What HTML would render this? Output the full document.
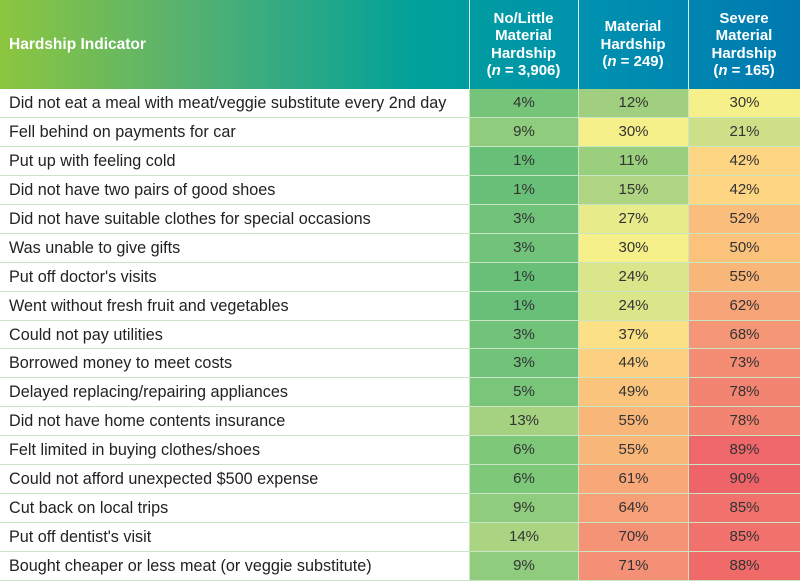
<!DOCTYPE html>
<html><head><meta charset="utf-8">
<style>
body{margin:0;width:800px;height:581px;overflow:hidden;background:#fff;font-family:"Liberation Sans",sans-serif;}
#wrap{position:relative;width:800px;height:581px;}
.hdr{position:absolute;top:0;left:0;width:800px;height:89px;background:linear-gradient(90deg,#8cc63f 0%,#52b073 25%,#00a19a 52%,#0090b0 75%,#0078b0 100%);}
.h{position:absolute;color:#fff;font-weight:bold;font-size:15px;line-height:17.5px;text-align:center;display:flex;align-items:center;justify-content:center;}
.vl{position:absolute;top:0;width:1px;height:89px;background:#fff;opacity:.85}
.lab{position:absolute;left:9px;font-size:16.2px;color:#222;white-space:nowrap;}
.cell{position:absolute;text-align:center;font-size:15px;color:#333;box-sizing:border-box;}
.rl{position:absolute;left:0;width:800px;height:1px;background:#c8e6c4;}
</style></head><body>
<div id="wrap">
<div class="hdr"></div>
<div class="h" style="left:0;top:0;width:300px;height:89px;justify-content:flex-start;padding-left:9px;font-size:15.5px"><span>Hardship Indicator</span></div>
<div class="vl" style="left:469px"></div><div class="vl" style="left:578px"></div><div class="vl" style="left:688px"></div>
<div class="h" style="left:469px;top:0;width:109px;height:89px"><span>No/Little<br>Material<br>Hardship<br>(<i>n</i>&nbsp;=&nbsp;3,906)</span></div>
<div class="h" style="left:578px;top:0;width:110px;height:89px"><span>Material<br>Hardship<br>(<i>n</i>&nbsp;=&nbsp;249)</span></div>
<div class="h" style="left:688px;top:0;width:112px;height:89px"><span>Severe<br>Material<br>Hardship<br>(<i>n</i>&nbsp;=&nbsp;165)</span></div>
</div>
<script>
const indicators=["Did not eat a meal with meat/veggie substitute every 2nd day","Fell behind on payments for car","Put up with feeling cold","Did not have two pairs of good shoes","Did not have suitable clothes for special occasions","Was unable to give gifts","Put off doctor's visits","Went without fresh fruit and vegetables","Could not pay utilities","Borrowed money to meet costs","Delayed replacing/repairing appliances","Did not have home contents insurance","Felt limited in buying clothes/shoes","Could not afford unexpected $500 expense","Cut back on local trips","Put off dentist's visit","Bought cheaper or less meat (or veggie substitute)"];
const noLittle=[4,9,1,1,3,3,1,1,3,3,5,13,6,6,9,14,9];
const material=[12,30,11,15,27,30,24,24,37,44,49,55,55,61,64,70,71];
const severe=[30,21,42,42,52,50,55,62,68,73,78,78,89,90,85,85,88];
const stops=[[0,[98,189,120]],[6,[126,200,122]],[12,[160,208,127]],[21,[205,224,136]],[30,[246,240,138]],[42,[254,213,130]],[55,[249,182,121]],[64,[246,160,120]],[72,[244,142,117]],[80,[242,128,112]],[90,[239,100,105]]];
function color(v){for(let i=1;i<stops.length;i++){if(v<=stops[i][0]){const a=stops[i-1],b=stops[i],t=(v-a[0])/(b[0]-a[0]);return 'rgb('+a[1].map((c,k)=>Math.round(c+(b[1][k]-c)*t)).join(',')+')';}}return 'rgb(239,100,105)';}
const W=document.getElementById('wrap');
const top0=89,rh=(581-89)/indicators.length;
const cols=[[469,109,noLittle,'no-little'],[578,110,material,'material'],[688,112,severe,'severe']];
indicators.forEach((lab,i)=>{
 const y=top0+i*rh;
 const l=document.createElement('div');l.className='lab';
 
 
 l.style.top=y+'px';l.style.lineHeight=rh+'px';l.textContent=lab;W.appendChild(l);
 cols.forEach(c=>{
  const d=document.createElement('div');d.className='cell';
  
  
  d.style.left=c[0]+'px';d.style.width=c[1]+'px';d.style.top=y+'px';d.style.height=rh+'px';d.style.lineHeight=rh+'px';
  d.style.background=color(c[2][i]);d.style.borderLeft='1px solid #c8e6c4';
  d.textContent=c[2][i]+'%';W.appendChild(d);
 });
 const r=document.createElement('div');r.className='rl';
 
 
 r.style.top=(y+rh-1)+'px';W.appendChild(r);
});
</script>
</body></html>
